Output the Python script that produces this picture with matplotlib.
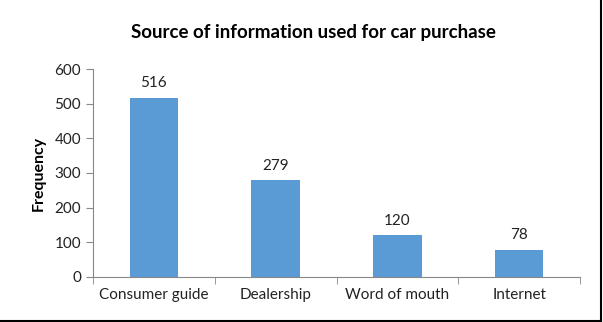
import matplotlib.pyplot as plt
from matplotlib.lines import Line2D

categories = ['Consumer guide', 'Dealership', 'Word of mouth', 'Internet']
frequency = [516, 279, 120, 78]

plt.rcParams['font.family'] = ['Lato', 'DejaVu Sans']

fig = plt.figure(figsize=(6.03, 3.22), dpi=100)
ax = fig.add_axes([0.1542, 0.1398, 0.8077, 0.6459])

x = range(len(categories))
bars = ax.bar(x, frequency, width=0.4, color='#5B9BD5')
for b, v in zip(bars, frequency):
    ax.text(b.get_x() + b.get_width() / 2, v + 22, str(v),
            ha='center', va='bottom', fontsize=11, color='#222222')

ax.set_xlim(-0.5, len(categories) - 0.5)
ax.set_ylim(0, 600)
ax.set_yticks(range(0, 601, 100))
ax.set_xticks(list(x))
ax.set_xticklabels(categories)
ax.set_xticks([i - 0.5 for i in range(len(categories) + 1)], minor=True)

for s in ['top', 'right']:
    ax.spines[s].set_visible(False)
for s in ['left', 'bottom']:
    ax.spines[s].set_color('#888888')
ax.tick_params(axis='x', which='major', length=0, labelsize=11, pad=8, colors='#222222')
ax.tick_params(axis='x', which='minor', length=5, color='#888888')
ax.tick_params(axis='y', length=5, color='#888888', labelsize=11, labelcolor='#222222')

ax.set_ylabel('Frequency', fontsize=11.5, fontweight='bold', labelpad=6)
fig.text(0.519, 0.9, 'Source of information used for car purchase',
         ha='center', va='center', fontsize=13.5, fontweight='bold')

# chart frame edges
fig.add_artist(Line2D([0, 0.997], [0.004, 0.004], color='black', lw=1.5,
                      transform=fig.transFigure))
fig.add_artist(Line2D([0.997, 0.997], [0.004, 1], color='black', lw=1.5,
                      transform=fig.transFigure))

fig.savefig('out.png', dpi=100)
